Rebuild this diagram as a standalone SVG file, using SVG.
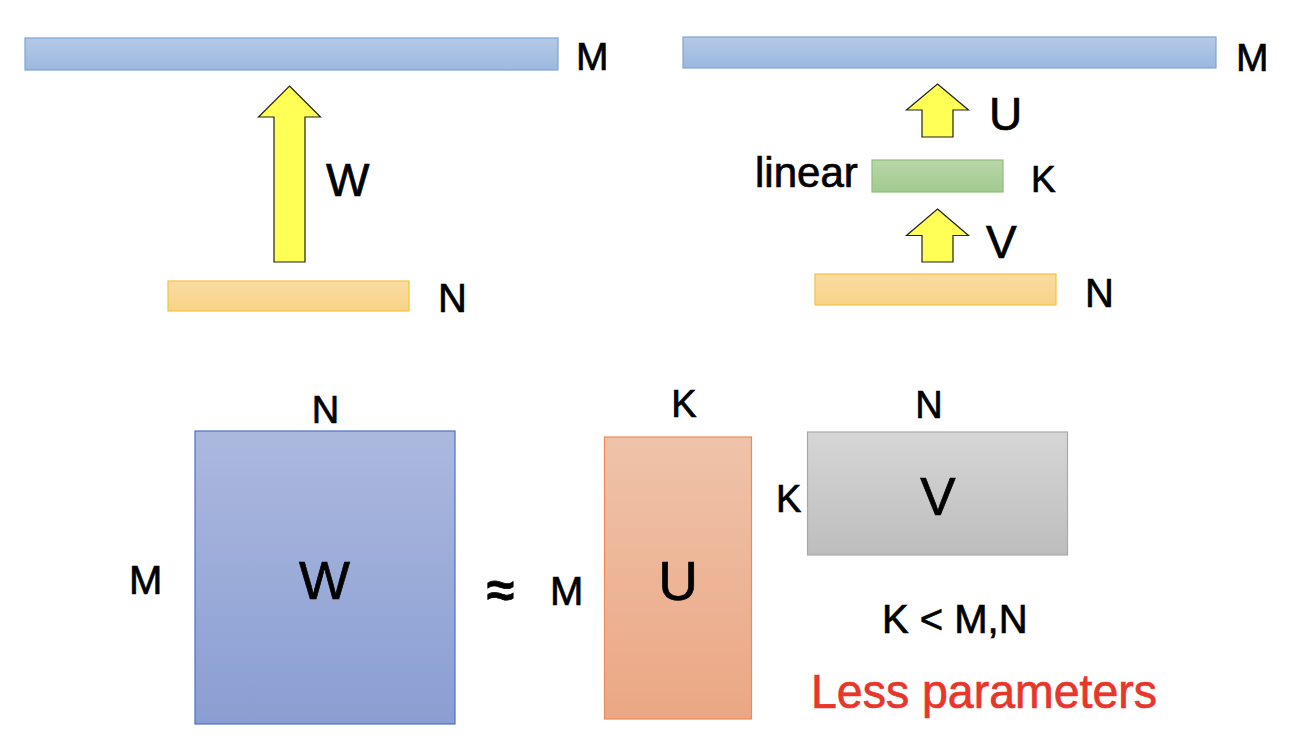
<svg xmlns="http://www.w3.org/2000/svg" width="1294" height="740" viewBox="0 0 1294 740">
<defs>
<linearGradient id="gBlue" x1="0" y1="0" x2="0" y2="1"><stop offset="0" stop-color="#b6c9e7"/><stop offset="1" stop-color="#9ab8df"/></linearGradient>
<linearGradient id="gOrange" x1="0" y1="0" x2="0" y2="1"><stop offset="0" stop-color="#fadca3"/><stop offset="1" stop-color="#f8d387"/></linearGradient>
<linearGradient id="gGreen" x1="0" y1="0" x2="0" y2="1"><stop offset="0" stop-color="#b8d6a8"/><stop offset="1" stop-color="#a2ca8e"/></linearGradient>
<linearGradient id="gW" x1="0" y1="0" x2="0" y2="1"><stop offset="0" stop-color="#acb9de"/><stop offset="1" stop-color="#8a9ed3"/></linearGradient>
<linearGradient id="gU" x1="0" y1="0" x2="0" y2="1"><stop offset="0" stop-color="#efc3aa"/><stop offset="1" stop-color="#eba784"/></linearGradient>
<linearGradient id="gV" x1="0" y1="0" x2="0" y2="1"><stop offset="0" stop-color="#d6d6d6"/><stop offset="1" stop-color="#bdbdbd"/></linearGradient>
</defs>
<style>
text{font-family:"Liberation Sans",Arial,sans-serif;fill:#000;stroke:#000;stroke-width:0.7}
.red{fill:#e8362b;stroke:#e8362b}
.arrow{fill:#ffff55;stroke:#222;stroke-width:1.2}
.blue{fill:url(#gBlue);stroke:#7ea4d8;stroke-width:1.2}
.orange{fill:url(#gOrange);stroke:#f5c23e;stroke-width:1.2}
</style>
<rect width="1294" height="740" fill="#fff"/>

<g id="left-panel">
<g id="barM1"><rect class="blue" x="25" y="38" width="533" height="32"/><text x="576" y="70" font-size="39">M</text></g>
<g id="barN1"><rect class="orange" x="168" y="281" width="241" height="30"/><text x="438" y="312" font-size="40">N</text></g>
</g>

<g id="right-panel">
<g id="barM2"><rect class="blue" x="683" y="37" width="533" height="31"/><text x="1236" y="70.5" font-size="39">M</text></g>
<g id="linear"><rect x="872" y="160" width="131" height="32" fill="url(#gGreen)" stroke="#8fbe7a" stroke-width="1.2"/><text x="755" y="187" font-size="42">linear</text><text x="1031" y="191.5" font-size="37">K</text></g>
<g id="barN2"><rect class="orange" x="815" y="274" width="241" height="31"/><text x="1085" y="307" font-size="40">N</text></g>
</g>

<g id="connectors">
<polygon class="arrow" points="289.5,86 320.5,117 305,117 305,262 274,262 274,117 258.5,117"/>
<text x="326" y="196" font-size="46">W</text>
<polygon class="arrow" points="937.5,84 968.5,110 953,110 953,137 922,137 922,110 906.5,110"/>
<text x="989" y="130" font-size="46">U</text>
<polygon class="arrow" points="937.5,209 968.5,235.5 953,235.5 953,262 922,262 922,235.5 906.5,235.5"/>
<text x="986" y="257.5" font-size="46">V</text>
</g>

<g id="matW">
<rect x="195" y="431" width="260" height="293" fill="url(#gW)" stroke="#4d70c3" stroke-width="1.2"/>
<text x="325.5" y="422.5" font-size="38" text-anchor="middle">N</text>
<text x="129" y="594" font-size="40">M</text>
<text x="324.5" y="599" font-size="54" text-anchor="middle">W</text>
</g>

<g id="approx"><text x="500.5" y="607" font-size="50" font-weight="bold" text-anchor="middle">≈</text></g>

<g id="matU">
<rect x="604.5" y="437" width="147" height="282" fill="url(#gU)" stroke="#ee8a55" stroke-width="1.2"/>
<text x="684" y="416.5" font-size="38" text-anchor="middle">K</text>
<text x="550" y="605" font-size="40">M</text>
<text x="678" y="600" font-size="55" text-anchor="middle">U</text>
</g>

<g id="matV">
<rect x="807.5" y="432" width="260" height="123" fill="url(#gV)" stroke="#a8a8a8" stroke-width="1.2"/>
<text x="929" y="417.5" font-size="38" text-anchor="middle">N</text>
<text x="776" y="511.5" font-size="38">K</text>
<text x="938" y="515" font-size="53" text-anchor="middle">V</text>
</g>

<g id="notes">
<text x="882" y="633" font-size="40">K &lt; M,N</text>
<text class="red" x="811" y="708" font-size="48" textLength="346" lengthAdjust="spacingAndGlyphs">Less parameters</text>
</g>
</svg>
